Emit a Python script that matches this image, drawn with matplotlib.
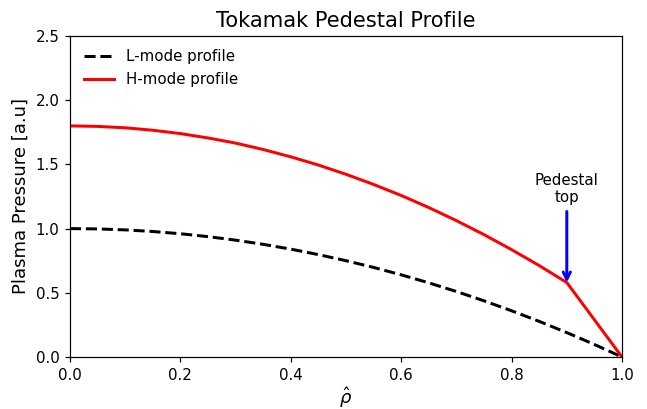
import matplotlib
matplotlib.use("Agg")
import matplotlib.pyplot as plt

rho = [0.0, 0.05, 0.1, 0.15, 0.2, 0.25, 0.3, 0.35, 0.4, 0.45, 0.5,
       0.55, 0.6, 0.65, 0.7, 0.75, 0.8, 0.85, 0.9, 0.95, 1.0]
l_mode = [1.0, 0.9975, 0.99, 0.9775, 0.96, 0.9375, 0.91, 0.8775, 0.84, 0.7975, 0.75,
          0.6975, 0.64, 0.5775, 0.51, 0.4375, 0.36, 0.2775, 0.19, 0.0975, 0.0]

rho_h = [0.0, 0.05, 0.1, 0.15, 0.2, 0.25, 0.3, 0.35, 0.4, 0.45, 0.5,
         0.55, 0.6, 0.65, 0.7, 0.75, 0.8, 0.85, 0.9, 1.0]
h_mode = [1.8, 1.796, 1.785, 1.766, 1.74, 1.706, 1.666, 1.616, 1.559, 1.495, 1.423,
          1.344, 1.258, 1.164, 1.062, 0.953, 0.836, 0.712, 0.580, 0.0]

ped_rho = 0.9
ped_val = 0.580

DPI = 108
fig = plt.figure(figsize=(647/DPI, 409/DPI), dpi=DPI)
ax = fig.add_axes([70/647, 1-357/409, (622-70)/647, (357-36)/409])

ax.plot(rho, l_mode, 'k--', lw=2, label='L-mode profile')
ax.plot(rho_h, h_mode, 'r-', lw=2, label='H-mode profile')

ax.annotate('Pedestal\ntop', xy=(ped_rho, ped_val), xytext=(ped_rho, 1.18),
            ha='center', va='bottom', fontsize=10,
            arrowprops=dict(arrowstyle='->', color='blue', lw=2,
                            shrinkA=2, shrinkB=0, mutation_scale=12))

ax.set_xlim(0, 1)
ax.set_ylim(0, 2.5)
ax.set_xlabel(r'$\hat{\rho}$', fontsize=12, labelpad=2)
ax.set_ylabel('Plasma Pressure [a.u]', fontsize=12)
ax.set_title('Tokamak Pedestal Profile', fontsize=14)
ax.legend(frameon=False, loc='upper left', fontsize=10)

fig.savefig('out.png', dpi=DPI)
